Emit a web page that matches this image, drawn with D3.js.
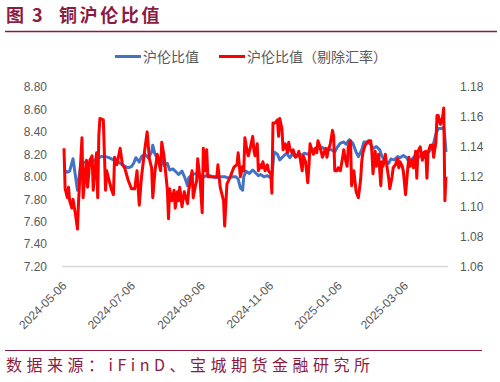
<!DOCTYPE html>
<html>
<head>
<meta charset="utf-8">
<script src="https://cdn.jsdelivr.net/npm/d3@7"></script>
<style>
  body { margin: 0; background: #fff; }
  svg { display: block; }
</style>
</head>
<body>
<div id="chart"></div>
<script>
// 沪伦比值 (left axis) and 沪伦比值（剔除汇率）(right axis)
const blueDates = [
  "2024-05-06","2024-05-09","2024-05-11","2024-05-14","2024-05-16","2024-05-18","2024-05-19","2024-05-21","2024-05-25","2024-05-28",
  "2024-06-01","2024-06-04","2024-06-08","2024-06-12","2024-06-15","2024-06-19","2024-06-22","2024-06-25","2024-06-28","2024-07-02",
  "2024-07-05","2024-07-07","2024-07-09","2024-07-12","2024-07-14","2024-07-17","2024-07-20","2024-07-23","2024-07-24","2024-07-26",
  "2024-07-29","2024-07-31","2024-08-03","2024-08-06","2024-08-08","2024-08-11","2024-08-14","2024-08-16","2024-08-19","2024-08-22",
  "2024-08-24","2024-08-25","2024-08-28","2024-09-01","2024-09-04","2024-09-08","2024-09-11","2024-09-15","2024-09-18","2024-09-22",
  "2024-09-26","2024-09-29","2024-10-03","2024-10-06","2024-10-08","2024-10-10","2024-10-12","2024-10-13","2024-10-15","2024-10-18",
  "2024-10-21","2024-10-23","2024-10-26","2024-10-28","2024-10-31","2024-11-03","2024-11-06","2024-11-07","2024-11-09","2024-11-12",
  "2024-11-14","2024-11-17","2024-11-20","2024-11-23","2024-11-25","2024-11-28","2024-12-01","2024-12-03","2024-12-06","2024-12-09",
  "2024-12-11","2024-12-14","2024-12-17","2024-12-19","2024-12-22","2024-12-25","2024-12-27","2024-12-30","2025-01-02","2025-01-04",
  "2025-01-07","2025-01-10","2025-01-12","2025-01-15","2025-01-18","2025-01-21","2025-01-23","2025-01-26","2025-01-28","2025-01-31",
  "2025-02-03","2025-02-05","2025-02-08","2025-02-11","2025-02-13","2025-02-16","2025-02-19","2025-02-21","2025-02-24","2025-02-27",
  "2025-03-01","2025-03-04","2025-03-07","2025-03-09","2025-03-12","2025-03-15","2025-03-17","2025-03-20","2025-03-23","2025-03-25",
  "2025-03-28","2025-03-31","2025-04-02","2025-04-04","2025-04-07","2025-04-09","2025-04-10","2025-04-11"
];
const blueValues = [
  8.06,8.04,8.05,8.16,8.02,7.88,7.96,8.12,8.13,8.12,
  8.14,8.16,8.18,8.18,8.17,8.15,8.14,8.12,8.10,8.08,
  8.09,8.12,8.17,8.13,8.18,8.20,8.17,8.22,8.28,8.20,
  8.15,8.17,8.10,8.12,8.06,8.07,8.04,8.02,8.05,7.98,
  7.92,7.99,8.02,8.03,8.01,8.00,8.02,8.00,7.99,8.00,
  8.00,7.99,8.00,8.00,7.98,7.90,7.88,8.00,8.05,8.03,
  8.06,8.04,8.01,8.02,8.00,8.01,7.99,8.00,8.22,8.20,
  8.15,8.18,8.21,8.17,8.20,8.18,8.21,8.19,8.21,8.20,
  8.22,8.24,8.26,8.25,8.26,8.24,8.25,8.24,8.22,8.26,
  8.30,8.31,8.29,8.33,8.30,8.22,8.18,8.24,8.31,8.31,
  8.29,8.25,8.27,8.24,8.18,8.14,8.12,8.16,8.15,8.18,
  8.17,8.19,8.17,8.13,8.16,8.19,8.17,8.19,8.17,8.20,
  8.24,8.30,8.38,8.43,8.43,8.44,8.35,8.22
];

const redDates = [
  "2024-05-06","2024-05-07","2024-05-09","2024-05-10","2024-05-11","2024-05-13","2024-05-14","2024-05-16","2024-05-18","2024-05-19",
  "2024-05-22","2024-05-23","2024-05-25","2024-05-26","2024-05-27","2024-05-29","2024-05-31","2024-06-01","2024-06-04","2024-06-05",
  "2024-06-06","2024-06-07","2024-06-10","2024-06-12","2024-06-13","2024-06-15","2024-06-17","2024-06-19","2024-06-20","2024-06-22",
  "2024-06-25","2024-06-27","2024-06-29","2024-07-02","2024-07-05","2024-07-08","2024-07-10","2024-07-12","2024-07-14","2024-07-17",
  "2024-07-19","2024-07-21","2024-07-23","2024-07-24","2024-07-26","2024-07-28","2024-07-31","2024-08-01","2024-08-03","2024-08-05",
  "2024-08-06","2024-08-07","2024-08-08","2024-08-10","2024-08-12","2024-08-13","2024-08-15","2024-08-16","2024-08-17","2024-08-19",
  "2024-08-21","2024-08-24","2024-08-25","2024-08-28","2024-08-29","2024-08-31","2024-09-01","2024-09-02","2024-09-04","2024-09-06",
  "2024-09-07","2024-09-09","2024-09-10","2024-09-11","2024-09-15","2024-09-19","2024-09-20","2024-09-22","2024-09-25","2024-09-26",
  "2024-09-28","2024-10-01","2024-10-04","2024-10-05","2024-10-07","2024-10-08","2024-10-10","2024-10-12","2024-10-13","2024-10-14",
  "2024-10-16","2024-10-17","2024-10-19","2024-10-21","2024-10-22","2024-10-23","2024-10-25","2024-10-26","2024-10-28","2024-10-29",
  "2024-10-30","2024-11-01","2024-11-03","2024-11-04","2024-11-06","2024-11-07","2024-11-08","2024-11-10","2024-11-12","2024-11-13",
  "2024-11-14","2024-11-16","2024-11-17","2024-11-19","2024-11-21","2024-11-22","2024-11-23","2024-11-25","2024-11-26","2024-11-28",
  "2024-11-30","2024-12-01","2024-12-02","2024-12-04","2024-12-05","2024-12-07","2024-12-09","2024-12-10","2024-12-11","2024-12-13",
  "2024-12-14","2024-12-16","2024-12-17","2024-12-18","2024-12-20","2024-12-22","2024-12-23","2024-12-25","2024-12-26","2024-12-27",
  "2024-12-29","2024-12-31","2025-01-01","2025-01-02","2025-01-04","2025-01-05","2025-01-07","2025-01-09","2025-01-10","2025-01-11",
  "2025-01-13","2025-01-14","2025-01-16","2025-01-17","2025-01-19","2025-01-21","2025-01-23","2025-01-25","2025-01-26","2025-01-27",
  "2025-01-29","2025-02-01","2025-02-03","2025-02-04","2025-02-05","2025-02-07","2025-02-08","2025-02-10","2025-02-12","2025-02-13",
  "2025-02-14","2025-02-16","2025-02-18","2025-02-19","2025-02-20","2025-02-22","2025-02-23","2025-02-25","2025-02-27","2025-02-28",
  "2025-03-01","2025-03-03","2025-03-04","2025-03-06","2025-03-08","2025-03-09","2025-03-10","2025-03-12","2025-03-13","2025-03-15",
  "2025-03-16","2025-03-17","2025-03-19","2025-03-21","2025-03-22","2025-03-24","2025-03-25","2025-03-26","2025-03-28","2025-03-30",
  "2025-03-31","2025-04-02","2025-04-03","2025-04-04","2025-04-06","2025-04-08","2025-04-09","2025-04-10","2025-04-11"
];
const redValues = [
  1.139,1.112,1.106,1.113,1.104,1.099,1.105,1.096,1.085,1.104,
  1.146,1.106,1.124,1.131,1.113,1.131,1.134,1.111,1.136,1.106,
  1.148,1.159,1.158,1.111,1.124,1.118,1.112,1.108,1.133,1.128,
  1.139,1.128,1.126,1.118,1.112,1.112,1.124,1.101,1.120,1.139,
  1.150,1.132,1.126,1.106,1.124,1.135,1.124,1.143,1.134,1.119,
  1.111,1.092,1.112,1.104,1.111,1.099,1.110,1.104,1.113,1.100,
  1.110,1.102,1.111,1.124,1.106,1.114,1.117,1.132,1.119,1.096,
  1.139,1.124,1.138,1.120,1.120,1.120,1.128,1.113,1.104,1.087,
  1.115,1.120,1.126,1.127,1.128,1.136,1.120,1.127,1.124,1.146,
  1.137,1.134,1.140,1.147,1.138,1.134,1.142,1.124,1.128,1.126,
  1.130,1.124,1.128,1.124,1.122,1.109,1.156,1.156,1.158,1.147,
  1.159,1.152,1.138,1.142,1.136,1.143,1.139,1.136,1.138,1.133,
  1.134,1.137,1.133,1.124,1.134,1.130,1.116,1.127,1.142,1.137,
  1.135,1.139,1.136,1.144,1.140,1.133,1.135,1.139,1.133,1.137,
  1.142,1.151,1.147,1.124,1.124,1.126,1.124,1.133,1.138,1.133,
  1.127,1.140,1.144,1.114,1.124,1.110,1.106,1.118,1.130,1.136,
  1.141,1.144,1.144,1.137,1.122,1.137,1.127,1.135,1.114,1.130,
  1.127,1.135,1.124,1.119,1.112,1.120,1.126,1.128,1.132,1.126,
  1.130,1.127,1.124,1.108,1.126,1.133,1.127,1.131,1.126,1.137,
  1.119,1.137,1.140,1.131,1.136,1.137,1.119,1.136,1.141,1.141,
  1.133,1.143,1.161,1.161,1.155,1.160,1.166,1.104,1.120
];

const leftTicks = [7.2, 7.4, 7.6, 7.8, 8.0, 8.2, 8.4, 8.6, 8.8];
const rightTicks = [1.06, 1.08, 1.10, 1.12, 1.14, 1.16, 1.18];
const xTickLabels = ["2024-05-06","2024-07-06","2024-09-06","2024-11-06","2025-01-06","2025-03-06"];
const seriesNames = ["沪伦比值", "沪伦比值（剔除汇率）"];

const width = 500, height = 382;
const maroon = "#8a1c42";
const grey = "#595959";
const cjk = "'Noto Sans CJK SC', sans-serif";
const latin = "'Liberation Sans', Arial, sans-serif";

const parse = d3.timeParse("%Y-%m-%d");

const svg = d3.select("#chart").append("svg")
    .attr("width", width)
    .attr("height", height);

// title + rule
const title = svg.append("text")
    .attr("y", 22)
    .attr("fill", maroon)
    .style("font-family", cjk)
    .style("font-weight", "bold")
    .style("font-size", "18px");
title.append("tspan").attr("x", 6).text("图");
title.append("tspan").attr("x", 32).text("3");
title.append("tspan").attr("x", 59).attr("letter-spacing", 2.6).text("铜沪伦比值");

svg.append("line")
    .attr("x1", 5).attr("x2", 497)
    .attr("y1", 31.5).attr("y2", 31.5)
    .attr("stroke", maroon).attr("stroke-width", 1.5);

// scales
const x = d3.scaleTime()
    .domain([parse("2024-05-06"), parse("2025-04-11")])
    .range([64, 446]);
const yLeft = d3.scaleLinear().domain([7.2, 8.8]).range([266.5, 87]);
const yRight = d3.scaleLinear().domain([1.06, 1.18]).range([266.5, 87]);

// baseline
svg.append("line")
    .attr("x1", 62).attr("x2", 448)
    .attr("y1", 266.5).attr("y2", 266.5)
    .attr("stroke", "#d9d9d9").attr("stroke-width", 1.5);

// axes
const leftAxis = svg.append("g")
    .attr("transform", "translate(50,0)")
    .call(d3.axisLeft(yLeft).tickValues(leftTicks).tickFormat(d3.format(".2f")).tickSize(0).tickPadding(3));
const rightAxis = svg.append("g")
    .attr("transform", "translate(457,0)")
    .call(d3.axisRight(yRight).tickValues(rightTicks).tickFormat(d3.format(".2f")).tickSize(0).tickPadding(3));
const xAxis = svg.append("g")
    .attr("transform", "translate(0,266.5)")
    .call(d3.axisBottom(x).tickValues(xTickLabels.map(parse)).tickFormat(d3.timeFormat("%Y-%m-%d")).tickSize(0));

[leftAxis, rightAxis, xAxis].forEach(g => {
    g.select(".domain").remove();
    g.selectAll("text")
        .attr("fill", grey)
        .style("font-family", latin)
        .style("font-size", "12px");
});
xAxis.selectAll("text")
    .attr("x", 0).attr("y", 0).attr("dy", 0)
    .attr("text-anchor", "end")
    .attr("transform", "translate(3,20) rotate(-45)");

// lines
const blueData = blueDates.map((d, i) => ({ date: parse(d), value: blueValues[i] }));
const redData = redDates.map((d, i) => ({ date: parse(d), value: redValues[i] }));

svg.append("path")
    .datum(blueData)
    .attr("fill", "none")
    .attr("stroke", "#4472c4")
    .attr("stroke-width", 3)
    .attr("stroke-linejoin", "round")
    .attr("d", d3.line().x(d => x(d.date)).y(d => yLeft(d.value)));

svg.append("path")
    .datum(redData)
    .attr("fill", "none")
    .attr("stroke", "#ff0000")
    .attr("stroke-width", 3)
    .attr("stroke-linejoin", "round")
    .attr("d", d3.line().x(d => x(d.date)).y(d => yRight(d.value)));

// legend
const legendItems = [
    { name: seriesNames[0], color: "#4472c4", x: 115 },
    { name: seriesNames[1], color: "#ff0000", x: 219 }
];
const legend = svg.selectAll(".legend")
    .data(legendItems)
    .join("g")
    .attr("class", "legend")
    .attr("transform", d => `translate(${d.x},56.5)`);
legend.append("line")
    .attr("x1", 0).attr("x2", 26)
    .attr("stroke", d => d.color).attr("stroke-width", 3);
legend.append("text")
    .attr("x", 28).attr("y", 5)
    .attr("fill", grey)
    .style("font-family", cjk)
    .style("font-size", "14px")
    .text(d => d.name);

// source note
svg.append("line")
    .attr("x1", 5).attr("x2", 482)
    .attr("y1", 350.5).attr("y2", 350.5)
    .attr("stroke", maroon).attr("stroke-width", 1.2);
svg.append("text")
    .attr("x", 6).attr("y", 371)
    .attr("fill", maroon)
    .attr("letter-spacing", 4.5)
    .style("font-family", cjk)
    .style("font-size", "16px")
    .text("数据来源：iFinD、宝城期货金融研究所");
</script>
</body>
</html>
